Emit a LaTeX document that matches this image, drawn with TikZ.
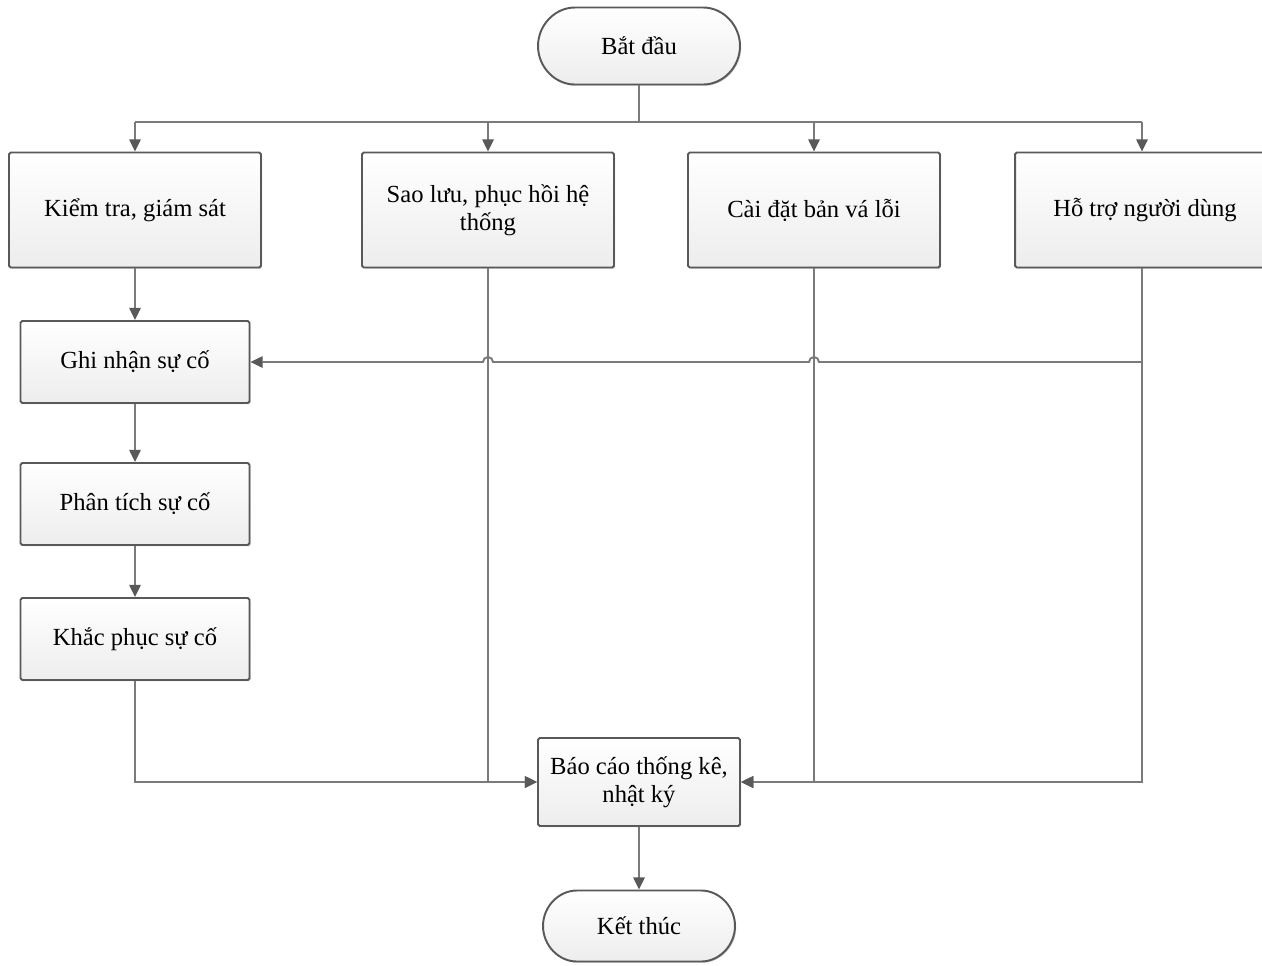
\documentclass[tikz,border=0pt]{standalone}
\usepackage{fontspec}
\setmainfont{Liberation Serif}
\usetikzlibrary{arrows.meta,shapes.misc,shadows}
\definecolor{bordergray}{HTML}{595959}
\definecolor{linegray}{HTML}{7A7A7A}
\definecolor{fillbot}{HTML}{EDEDED}
\begin{document}
\begin{tikzpicture}[x=0.02cm,y=-0.02cm,
  proc/.style={rectangle, draw=bordergray, line width=1.1pt, top color=white, bottom color=fillbot,
    rounded corners=1pt, font=\fontsize{14}{16}\selectfont, align=center, inner sep=0pt,
    drop shadow={shadow xshift=0.7pt, shadow yshift=-0.7pt, fill=black, opacity=0.22}},
  big/.style={proc, minimum width=5.04cm, minimum height=2.3cm},
  small/.style={proc, minimum width=4.58cm, minimum height=1.64cm},
  term/.style={proc, rounded rectangle},
  conn/.style={draw=linegray, line width=1.1pt},
  arr/.style={conn, -{Triangle[length=7pt, width=6.5pt, color=bordergray]}}]
\fill[white] (0,0) rectangle (1262,965);
\useasboundingbox (0,0) rectangle (1262,965);

\node[term, minimum width=4.04cm, minimum height=1.54cm] (start) at (639,46) {Bắt đầu};
\node[big] (kt) at (135,210) {Kiểm tra, giám sát};
\node[big] (sl) at (488,210) {Sao lưu, phục hồi hệ\\thống};
\node[big] (cd) at (814,210) {Cài đặt bản vá lỗi};
\node[big, minimum width=5.2cm] (ht) at (1145,210) {Hỗ trợ người dùng};
\node[small] (gn) at (135,362) {Ghi nhận sự cố};
\node[small] (pt) at (135,504) {Phân tích sự cố};
\node[small] (kp) at (135,639) {Khắc phục sự cố};
\node[proc, minimum width=4.04cm, minimum height=1.76cm] (bc) at (639,782) {Báo cáo thống kê,\\nhật ký};
\node[term, minimum width=3.84cm, minimum height=1.42cm] (end) at (639,926) {Kết thúc};

\coordinate (bus) at (639,122);
\coordinate (htx) at (1142,268);
\draw[conn] (start.south) -- (bus);
\draw[conn] (kt.north |- bus) -- (htx |- bus);
\draw[arr] (kt.north |- bus) -- (kt.north);
\draw[arr] (sl.north |- bus) -- (sl.north);
\draw[arr] (cd.north |- bus) -- (cd.north);
\draw[arr] (htx |- bus) -- (htx |- ht.north);

\draw[arr] (kt.south) -- (gn.north);
\draw[arr] (gn.south) -- (pt.north);
\draw[arr] (pt.south) -- (kp.north);

\draw[arr] (kp.south) |- (bc.west);
\draw[arr] (sl.south) |- (bc.west);
\draw[arr] (cd.south) |- (bc.east);
\draw[arr] (htx) |- (bc.east);
\draw[arr] (htx |- gn) -- ([xshift=0.1cm]cd.south |- gn)
  arc[start angle=0, end angle=180, radius=0.1cm]
  -- ([xshift=0.1cm]sl.south |- gn)
  arc[start angle=0, end angle=180, radius=0.1cm]
  -- (gn.east);

\draw[arr] (bc.south) -- (end.north);
\end{tikzpicture}
\end{document}
